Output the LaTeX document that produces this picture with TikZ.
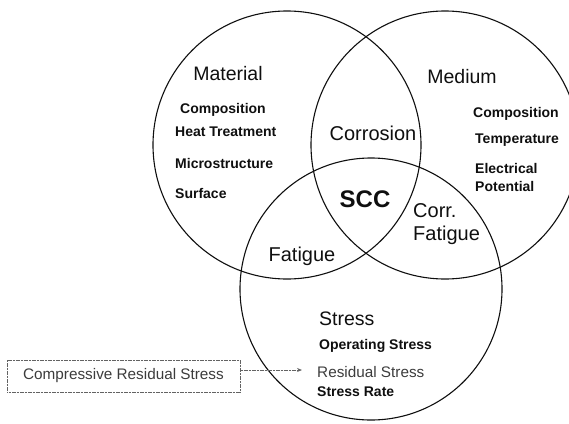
\documentclass[tikz,border=0pt]{standalone}
\usepackage{fontspec}
\setmainfont{Liberation Sans}
\usetikzlibrary{arrows.meta}
\definecolor{ink}{RGB}{15, 15, 15}
\definecolor{scan}{RGB}{60, 60, 60}

\tikzset{
  ring/.style={line width=1.1pt, draw=ink},
  title/.style={font=\fontsize{19.5}{22}\selectfont, text=ink, inner sep=0pt, anchor=base},
  item/.style={font=\bfseries\fontsize{14}{16}\selectfont, text=ink, inner sep=0pt, anchor=base west},
  crossing/.style={font=\fontsize{20}{22}\selectfont, text=ink, inner sep=0pt, anchor=base},
  note/.style={draw=scan!80, dash pattern=on 1.2pt off 0.4pt, line width=1pt, minimum width=233pt, minimum height=32pt,
    inner sep=0pt, text=scan, font=\fontsize{15.3}{17}\selectfont},
}

\begin{document}
\begin{tikzpicture}[x=1pt, y=-1pt]
  \useasboundingbox (0,0) rectangle (569,423);
  % the three circles
  \draw[ring] (287,145) circle (134pt);
  \draw[ring] (445,145) circle (134pt);
  \draw[ring] (371,289) circle (131pt);

  % material
  \node[title] (mat) at (228,80) {Material};
  \node[item] (matcomp) at (180,113) {Composition};
  \node[item] (heat) at (175,136) {Heat Treatment};
  \node[item] (micro) at (175,168) {Microstructure};
  \node[item] (surf) at (175,198) {Surface};

  % medium
  \node[title] (med) at (462,83) {Medium};
  \node[item] (medcomp) at (473,117) {Composition};
  \node[item] (temp) at (475,143) {Temperature};
  \node[item] (elec) at (475,173) {Electrical};
  \node[item] (pot) at (475,191) {Potential};

  % overlaps
  \node[crossing] (corr) at (373,140) {Corrosion};
  \node[crossing, font=\bfseries\fontsize{24}{26}\selectfont] (scc) at (365,207) {SCC};
  \node[crossing] (fat) at (302,261) {Fatigue};
  \node[crossing, anchor=base west, align=left] (cfat) at (413,240) {Corr.\\[1pt]Fatigue};

  % stress
  \node[title, anchor=base west] (str) at (319,325) {Stress};
  \node[item] (oper) at (319,349) {Operating Stress};
  \node[item, font=\fontsize{15.3}{17}\selectfont, text=scan] (resid) at (317,377) {Residual Stress};
  \node[item] (rate) at (317,396) {Stress Rate};

  % compressive residual stress
  \node[note] (crs) at (123.5,376) {Compressive Residual Stress};
  \coordinate (tip) at (302,370);
  \draw[scan!80, dash pattern=on 1.2pt off 0.4pt, line width=1pt, -{Stealth[length=5pt, width=4pt]}] (crs.east |- tip) -- (tip);
\end{tikzpicture}
\end{document}
